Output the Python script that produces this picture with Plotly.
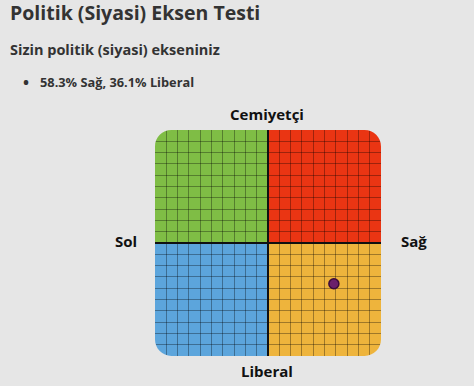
import plotly.graph_objects as go

# ---- data ----
title_text = "Politik (Siyasi) Eksen Testi"
subtitle_text = "Sizin politik (siyasi) ekseniniz"
result_text = "58.3% Sağ, 36.1% Liberal"
axis_labels = {"top": "Cemiyetçi", "bottom": "Liberal", "left": "Sol", "right": "Sağ"}
sag_pct = [58.3]       # right (+x)
liberal_pct = [36.1]   # down (-y)
grid_vals = list(range(-9, 10))
quad_colors = {"tl": "#7fbd45", "tr": "#ea3513", "bl": "#5ca5dc", "br": "#eeb43c"}

W, H = 474, 386
L, R, T, B = 155, 93, 130, 30
PW, PH = W - L - R, H - T - B
BG = "#e6e6e6"

def px(x):
    return (x - L) / PW

def py(y):
    return (H - B - y) / PH

x_pt = [v / 10 for v in sag_pct]
y_pt = [-v / 10 for v in liberal_pct]

fig = go.Figure()
fig.add_trace(go.Scatter(
    x=x_pt, y=y_pt, mode="markers",
    marker=dict(size=10, color="#6b1f6b", line=dict(color="#3a0c3a", width=1.5)),
    hoverinfo="skip", showlegend=False,
))

shapes = []
for key, (x0, x1, y0, y1) in {"tl": (-10, 0, 0, 10), "tr": (0, 10, 0, 10),
                              "bl": (-10, 0, -10, 0), "br": (0, 10, -10, 0)}.items():
    shapes.append(dict(type="rect", xref="x", yref="y", x0=x0, x1=x1, y0=y0, y1=y1,
                       fillcolor=quad_colors[key], line=dict(width=0), layer="below"))

r = 1.45
k = 0.5523 * r
for sx, sy in [(-1, 1), (1, 1), (-1, -1), (1, -1)]:
    cx, cy = 10 * sx, 10 * sy
    p1 = (cx - sx * r, cy)
    p2 = (cx, cy - sy * r)
    c1 = (cx - sx * r + sx * k, cy)
    c2 = (cx, cy - sy * r + sy * k)
    path = (f"M {cx+sx*0.2},{cy+sy*0.2} L {p1[0]},{cy+sy*0.2} L {p1[0]},{p1[1]} "
            f"C {c1[0]},{c1[1]} {c2[0]},{c2[1]} {p2[0]},{p2[1]} L {cx+sx*0.2},{p2[1]} Z")
    shapes.append(dict(type="path", xref="x", yref="y", path=path,
                       fillcolor=BG, line=dict(width=0), layer="between"))

ann = []
dark = "#333333"
ann.append(dict(text=f"<b>{title_text}</b>", x=px(8), y=py(12), xanchor="left", yanchor="middle",
                font=dict(family="Open Sans", size=19.5, color=dark)))
ann.append(dict(text=f"<b>{subtitle_text}</b>", x=px(8), y=py(49), xanchor="left", yanchor="middle",
                font=dict(family="Open Sans", size=14.5, color=dark)))
ann.append(dict(text="<b>•</b>", x=px(26), y=py(82), xanchor="center", yanchor="middle",
                font=dict(family="Open Sans", size=16, color=dark)))
ann.append(dict(text=f"<b>{result_text}</b>", x=px(38), y=py(82), xanchor="left", yanchor="middle",
                font=dict(family="Open Sans", size=12.8, color=dark)))
lab_font = dict(family="Open Sans", size=15, color="#111111")
ann.append(dict(text=f"<b>{axis_labels['top']}</b>", x=px(267), y=py(114), xanchor="center", yanchor="middle", font=lab_font))
ann.append(dict(text=f"<b>{axis_labels['bottom']}</b>", x=px(267), y=py(371), xanchor="center", yanchor="middle", font=lab_font))
ann.append(dict(text=f"<b>{axis_labels['left']}</b>", x=px(126), y=py(241), xanchor="center", yanchor="middle", font=lab_font))
ann.append(dict(text=f"<b>{axis_labels['right']}</b>", x=px(414), y=py(241), xanchor="center", yanchor="middle", font=lab_font))
for a in ann:
    a.update(xref="paper", yref="paper", showarrow=False)

axis_common = dict(range=[-10, 10], tickvals=grid_vals, showticklabels=False, ticks="",
                   showgrid=True, gridcolor="rgba(0,0,0,0.33)", gridwidth=1,
                   zeroline=True, zerolinecolor="#111111", zerolinewidth=2,
                   showline=False, fixedrange=True)

fig.update_layout(
    width=W, height=H, margin=dict(l=L, r=R, t=T, b=B),
    paper_bgcolor=BG, plot_bgcolor=BG,
    xaxis=axis_common, yaxis=axis_common,
    shapes=shapes, annotations=ann, showlegend=False,
)
fig.write_html("out.html", config={"displayModeBar": False})
